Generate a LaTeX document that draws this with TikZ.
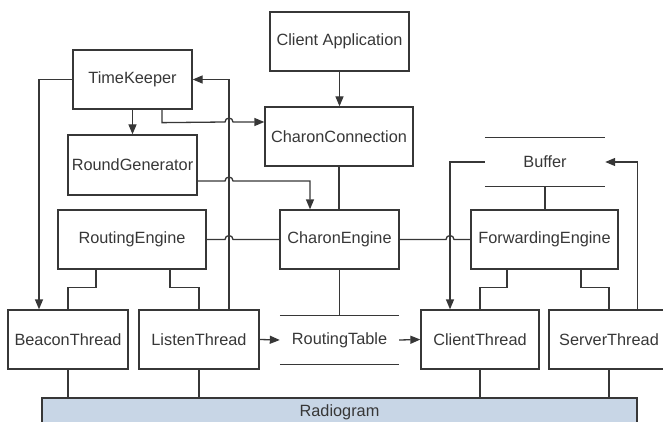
\documentclass[tikz,border=0pt]{standalone}
\usepackage{fontspec}
\setmainfont{Liberation Sans}
\usetikzlibrary{arrows.meta}
\definecolor{radfill}{RGB}{200,214,230}
\definecolor{ink}{RGB}{55,55,55}
\tikzset{
  box/.style={draw=ink, line width=1.3pt, text=ink, inner sep=0pt, align=center,
    font=\fontsize{16.3}{19}\selectfont},
  plain/.style={text=ink, inner sep=0pt, align=center, font=\fontsize{16.3}{19}\selectfont},
  conn/.style={draw=ink, line width=1.3pt},
  arr/.style={conn, -{Triangle[length=10pt,width=8pt]}},
}
\begin{document}
\begin{tikzpicture}[x=1pt,y=-1pt]
\useasboundingbox (0,0) rectangle (663,422);
\clip (0,0) rectangle (663,422);
% nodes
\node[box, minimum width=139, minimum height=59] (ca) at (339.5,41.5) {Client Application};
\node[box, minimum width=119, minimum height=59] (tk) at (132.5,79.5) {TimeKeeper};
\node[box, minimum width=148, minimum height=59] (cc) at (339,136.5) {CharonConnection};
\node[box, minimum width=129, minimum height=60] (rg) at (132.5,165) {RoundGenerator};
\node[plain, minimum width=120, minimum height=48] (buf) at (545,162) {Buffer};
\node[box, minimum width=148, minimum height=59] (re) at (132,239.5) {RoutingEngine};
\node[box, minimum width=119, minimum height=59] (ce) at (339.5,239.5) {CharonEngine};
\node[box, minimum width=147, minimum height=59] (fe) at (544.5,239.5) {ForwardingEngine};
\node[box, minimum width=120, minimum height=59] (bt) at (68,339.5) {BeaconThread};
\node[box, minimum width=120, minimum height=59] (lt) at (199,339.5) {ListenThread};
\node[plain, minimum width=119, minimum height=48] (rt) at (339.5,340) {RoutingTable};
\node[box, minimum width=118, minimum height=59] (ct) at (480,339.5) {ClientThread};
\node[box, minimum width=120, minimum height=59] (st) at (609,339.5) {ServerThread};
\node[box, fill=radfill, minimum width=595, minimum height=28] (rad) at (339.5,412) {Radiogram};
% data store lines
\draw[conn] (buf.north west) -- (buf.north east);
\draw[conn] (buf.south west) -- (buf.south east);
\draw[conn] (rt.north west) -- (rt.north east);
\draw[conn] (rt.south west) -- (rt.south east);
% helper coordinates
\coordinate (ytkcc) at (0,122);
% arrows
\draw[arr] (ca.south) -- (ca.south |- cc.north);
\draw[arr] (tk.south) -- (rg.north);
\draw[arr] ([xshift=29.5pt]tk.south) -- ++(0,13) -- (225,122) arc[start angle=180,end angle=360,radius=4] -- (cc.west |- ytkcc);
\draw[arr] ([xshift=30pt]lt.north) |- (tk.east);
\draw[arr] (tk.west) -| ([xshift=-29pt]bt.north);
\draw[arr] ([yshift=-16pt]rg.east) -- (225,181) arc[start angle=180,end angle=360,radius=4] -| ([xshift=-29.5pt]ce.north);
\draw[arr] (buf.west) -| ([xshift=-30pt]ct.north);
\draw[arr] ([xshift=28.5pt]st.north) |- (buf.east);
\draw[arr] (lt.east) -- (rt.west);
\draw[arr] (rt.east) -- (ct.west);
% plain connectors
\draw[conn] (cc.south) -- (cc.south |- ce.north);
\draw[conn] (ce.south) -- (rt.north);
\draw[conn] (buf.south) -- (buf.south |- fe.north);
\draw[conn] (re.east) -- (225,239.5) arc[start angle=180,end angle=360,radius=4] -- (ce.west);
\draw[conn] (ce.east) -- (446,239.5) arc[start angle=180,end angle=360,radius=4] -- (fe.west);
\draw[conn] ([xshift=-36pt]re.south) -- ++(0,18) -| (bt.north);
\draw[conn] ([xshift=38pt]re.south) -- ++(0,18) -| (lt.north);
\draw[conn] ([xshift=-37.5pt]fe.south) -- ++(0,18) -| (ct.north);
\draw[conn] ([xshift=36.5pt]fe.south) -- ++(0,18) -| (st.north);
\draw[conn] (bt.south) -- (bt.south |- rad.north);
\draw[conn] (lt.south) -- (lt.south |- rad.north);
\draw[conn] (ct.south) -- (ct.south |- rad.north);
\draw[conn] (st.south) -- (st.south |- rad.north);
\end{tikzpicture}
\end{document}
